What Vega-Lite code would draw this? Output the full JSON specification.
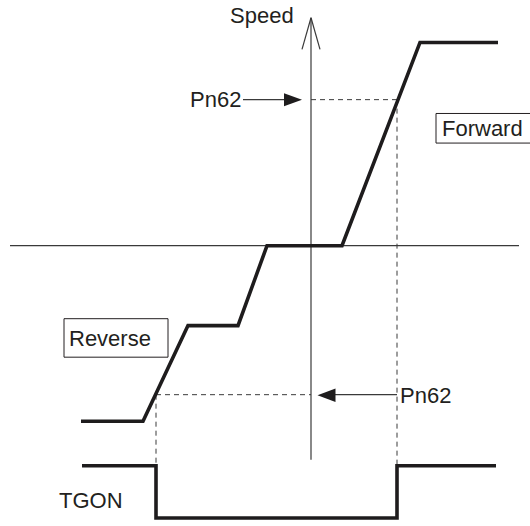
{
  "$schema": "https://vega.github.io/schema/vega-lite/v6.json",
  "width": 530,
  "height": 526,
  "autosize": {"type": "fit", "contains": "padding"},
  "padding": 0,
  "background": "white",
  "config": {"view": {"stroke": null}},
  "datasets": {
    "axes": [
      {"name": "time axis", "x": 10, "y": 249, "x2": 519, "y2": 249},
      {"name": "speed axis", "x": 311, "y": 18, "x2": 311, "y2": 466},
      {"name": "speed arrow left", "x": 311, "y": 18, "x2": 302, "y2": 50},
      {"name": "speed arrow right", "x": 311, "y": 18, "x2": 320, "y2": 50},
      {"name": "Pn62 forward pointer", "x": 243, "y": 101, "x2": 285, "y2": 101},
      {"name": "Pn62 reverse pointer", "x": 334, "y": 400, "x2": 397, "y2": 400}
    ],
    "dashed": [
      {"name": "forward level", "x": 311, "y": 101, "x2": 398, "y2": 101},
      {"name": "forward drop", "x": 397, "y": 101, "x2": 397, "y2": 472},
      {"name": "reverse level", "x": 156, "y": 400, "x2": 311, "y2": 400},
      {"name": "reverse drop", "x": 156, "y": 400, "x2": 156, "y2": 472}
    ],
    "signals": [
      {"series": "Speed", "order": 1, "x": 81, "y": 427},
      {"series": "Speed", "order": 2, "x": 143, "y": 427},
      {"series": "Speed", "order": 3, "x": 188, "y": 330},
      {"series": "Speed", "order": 4, "x": 238, "y": 330},
      {"series": "Speed", "order": 5, "x": 267, "y": 249},
      {"series": "Speed", "order": 6, "x": 342, "y": 249},
      {"series": "Speed", "order": 7, "x": 420, "y": 43},
      {"series": "Speed", "order": 8, "x": 498, "y": 43},
      {"series": "TGON", "order": 1, "x": 82, "y": 472},
      {"series": "TGON", "order": 2, "x": 156, "y": 472},
      {"series": "TGON", "order": 3, "x": 156, "y": 525},
      {"series": "TGON", "order": 4, "x": 397, "y": 525},
      {"series": "TGON", "order": 5, "x": 397, "y": 472},
      {"series": "TGON", "order": 6, "x": 496, "y": 472}
    ],
    "heads": [
      {"dir": "right", "x": 293, "y": 101},
      {"dir": "left", "x": 326.5, "y": 400.5}
    ],
    "boxes": [
      {"label": "Forward", "x": 436, "y": 115, "x2": 534, "y2": 145},
      {"label": "Reverse", "x": 64, "y": 323, "x2": 168, "y2": 362}
    ],
    "labels": [
      {"text": "Speed", "x": 230, "y": 23},
      {"text": "Pn62", "x": 190, "y": 108},
      {"text": "Forward", "x": 442, "y": 137.5},
      {"text": "Reverse", "x": 69, "y": 351},
      {"text": "Pn62", "x": 400, "y": 408},
      {"text": "TGON", "x": 59, "y": 515}
    ]
  },
  "layer": [
    {
      "data": {"name": "boxes"},
      "mark": {"type": "rect", "fill": "white", "stroke": "#231f20", "strokeWidth": 1, "clip": true},
      "encoding": {
        "x": {"field": "x", "type": "quantitative", "scale": {"domain": [0, 530], "nice": false, "zero": false}, "axis": null},
        "x2": {"field": "x2"},
        "y": {"field": "y", "type": "quantitative", "scale": {"domain": [0, 526], "nice": false, "zero": false, "reverse": true}, "axis": null},
        "y2": {"field": "y2"}
      }
    },
    {
      "data": {"name": "axes"},
      "mark": {"type": "rule", "color": "#3a3a3a", "strokeWidth": 1.2},
      "encoding": {
        "x": {"field": "x", "type": "quantitative", "axis": null},
        "x2": {"field": "x2"},
        "y": {"field": "y", "type": "quantitative", "axis": null},
        "y2": {"field": "y2"}
      }
    },
    {
      "data": {"name": "dashed"},
      "mark": {"type": "rule", "color": "#3a3a3a", "strokeWidth": 1, "strokeDash": [5, 4]},
      "encoding": {
        "x": {"field": "x", "type": "quantitative", "axis": null},
        "x2": {"field": "x2"},
        "y": {"field": "y", "type": "quantitative", "axis": null},
        "y2": {"field": "y2"}
      }
    },
    {
      "data": {"name": "signals"},
      "mark": {"type": "line", "color": "#1e1c1d", "strokeWidth": 3.6, "strokeJoin": "miter", "strokeCap": "butt"},
      "encoding": {
        "x": {"field": "x", "type": "quantitative", "axis": null},
        "y": {"field": "y", "type": "quantitative", "axis": null},
        "detail": {"field": "series", "type": "nominal"},
        "order": {"field": "order", "type": "quantitative"}
      }
    },
    {
      "data": {"name": "heads"},
      "mark": {"type": "point", "filled": true, "color": "#1e1c1d", "opacity": 1, "size": 324, "strokeWidth": 0},
      "encoding": {
        "x": {"field": "x", "type": "quantitative", "axis": null},
        "y": {"field": "y", "type": "quantitative", "axis": null},
        "shape": {"field": "dir", "type": "nominal", "scale": {"domain": ["right", "left"], "range": ["M-1,-0.72L1,0L-1,0.72Z", "M1,-0.75L-1,0L1,0.75Z"]}, "legend": null}
      }
    },
    {
      "data": {"name": "labels"},
      "mark": {"type": "text", "align": "left", "baseline": "alphabetic", "font": "Liberation Sans", "fontSize": 22, "color": "#231f20"},
      "encoding": {
        "x": {"field": "x", "type": "quantitative", "axis": null},
        "y": {"field": "y", "type": "quantitative", "axis": null},
        "text": {"field": "text"}
      }
    }
  ]
}
